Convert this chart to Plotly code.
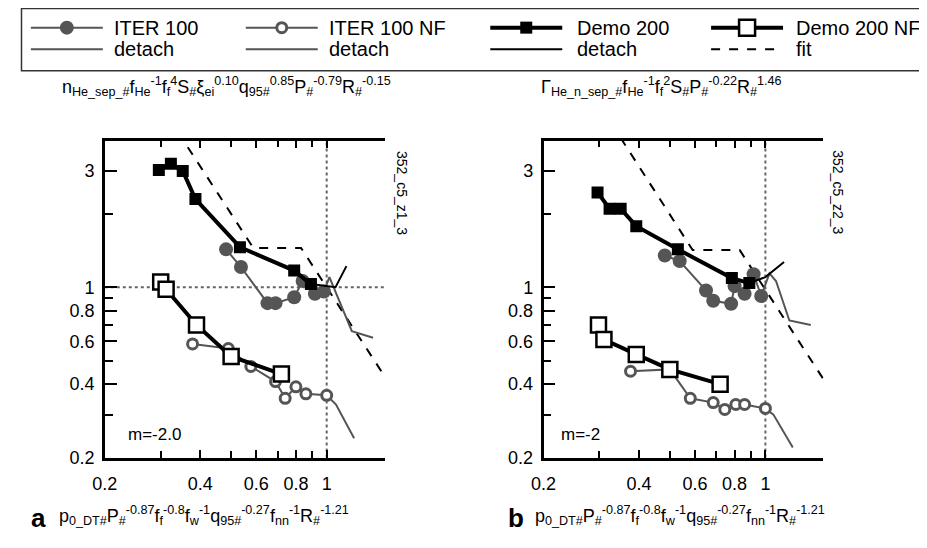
import plotly.graph_objects as go
import math

# ---------------- data ----------------
# panel a
a_iter_x = [0.482, 0.537, 0.651, 0.69, 0.79, 0.84, 0.918, 0.98]
a_iter_y = [1.43, 1.21, 0.86, 0.86, 0.91, 1.06, 0.94, 0.96]
a_iter_det_x = [0.98, 1.02, 1.20, 1.40]
a_iter_det_y = [0.96, 1.10, 0.66, 0.62]
a_iternf_x = [0.378, 0.49, 0.577, 0.69, 0.74, 0.80, 0.86, 1.0]
a_iternf_y = [0.585, 0.56, 0.473, 0.41, 0.35, 0.39, 0.365, 0.36]
a_iternf_det_x = [1.0, 1.07, 1.22]
a_iternf_det_y = [0.36, 0.33, 0.24]
a_demo_x = [0.296, 0.323, 0.352, 0.386, 0.533, 0.79, 0.892]
a_demo_y = [3.03, 3.21, 3.0, 2.30, 1.46, 1.17, 1.03]
a_demo_det_x = [0.892, 1.066, 1.154]
a_demo_det_y = [1.03, 1.0, 1.22]
a_demonf_x = [0.30, 0.312, 0.389, 0.50, 0.72]
a_demonf_y = [1.05, 0.98, 0.70, 0.52, 0.44]
a_fit_x = [0.34, 0.587, 0.83, 1.6]
a_fit_y = [4.33, 1.45, 1.45, 0.39]

# panel b
b_iter_x = [0.482, 0.537, 0.65, 0.685, 0.78, 0.80, 0.86, 0.918, 0.97]
b_iter_y = [1.35, 1.28, 0.97, 0.88, 0.855, 1.01, 0.94, 1.13, 0.92]
b_iter_det_x = [0.97, 1.03, 1.08, 1.19, 1.39]
b_iter_det_y = [0.92, 1.14, 1.06, 0.73, 0.70]
b_iternf_x = [0.376, 0.50, 0.58, 0.685, 0.745, 0.807, 0.86, 1.0]
b_iternf_y = [0.452, 0.46, 0.35, 0.336, 0.315, 0.33, 0.33, 0.318]
b_iternf_det_x = [1.0, 1.06, 1.22]
b_iternf_det_y = [0.318, 0.30, 0.22]
b_demo_x = [0.296, 0.323, 0.35, 0.392, 0.53, 0.784, 0.89]
b_demo_y = [2.45, 2.10, 2.10, 1.78, 1.43, 1.09, 1.04]
b_demo_det_x = [0.89, 1.0, 1.145]
b_demo_det_y = [1.04, 1.10, 1.27]
b_demonf_x = [0.298, 0.31, 0.392, 0.50, 0.72]
b_demonf_y = [0.70, 0.61, 0.53, 0.46, 0.40]
b_fit_x = [0.35, 0.59, 0.83, 1.6]
b_fit_y = [4.1, 1.42, 1.42, 0.38]

# reference lines
ref_x_h = [0.2, 1.6]
ref_y_h = [1, 1]
ref_x_v = [1, 1]
ref_y_v = [0.2, 4]

x_tickvals = [0.2, 0.4, 0.6, 0.8, 1]
x_ticktext = ["0.2", "0.4", "0.6", "0.8", "1"]
x_minor = [0.3, 0.5, 0.7, 0.9]
y_tickvals = [0.2, 0.4, 0.6, 0.8, 1, 3]
y_ticktext = ["0.2", "0.4", "0.6", "0.8", "1", "3"]
y_minor = [0.3, 0.5, 0.7, 0.9, 2]

legend_names = ["ITER 100", "ITER 100 NF", "Demo 200", "Demo 200 NF"]
legend_names2 = ["detach", "detach", "detach", "fit"]

title_a = ("n<sub>He_sep_#</sub>f<sub>He</sub><sup>-1</sup>f<sub>f</sub><sup>4</sup>S<sub>#</sub>"
           "ξ<sub>ei</sub><sup>0.10</sup>q<sub>95#</sub><sup>0.85</sup>P<sub>#</sub><sup>-0.79</sup>"
           "R<sub>#</sub><sup>-0.15</sup>")
title_b = ("Γ<sub>He_n_sep_#</sub>f<sub>He</sub><sup>-1</sup>f<sub>f</sub><sup>2</sup>S<sub>#</sub>"
           "P<sub>#</sub><sup>-0.22</sup>R<sub>#</sub><sup>1.46</sup>")
xtitle = ("p<sub>0_DT#</sub>P<sub>#</sub><sup>-0.87</sup>f<sub>f</sub><sup>-0.8</sup>"
          "f<sub>w</sub><sup>-1</sup>q<sub>95#</sub><sup>-0.27</sup>f<sub>nn</sub><sup>-1</sup>"
          "R<sub>#</sub><sup>-1.21</sup>")

# ---------------- styling ----------------
# the page body has an 8 px margin, so the figure is drawn 8 px in from the window corner
OFF = 8
W, H = 927 - OFF, 548 - OFF
GRAY = "#555555"
FONT = "Liberation Sans, Arial, sans-serif"
NARROW = "Liberation Sans Narrow, Liberation Sans, Arial, sans-serif"

def px(x):
    return (x - OFF) / W

def py(y):
    return 1 - (y - OFF) / H

fig = go.Figure()

def add_panel(xa, ya, iter_x, iter_y, idet_x, idet_y, nf_x, nf_y, nfdet_x, nfdet_y,
              demo_x, demo_y, ddet_x, ddet_y, dnf_x, dnf_y, fit_x, fit_y, hline):
    kw = dict(xaxis=xa, yaxis=ya, showlegend=False, hoverinfo="skip")
    if hline:
        fig.add_trace(go.Scatter(x=ref_x_h, y=ref_y_h, mode="lines",
                                 line=dict(color="#666666", width=2, dash="dot"), **kw))
    fig.add_trace(go.Scatter(x=ref_x_v, y=ref_y_v, mode="lines",
                             line=dict(color="#666666", width=2, dash="dot"), **kw))
    fig.add_trace(go.Scatter(x=fit_x, y=fit_y, mode="lines",
                             line=dict(color="black", width=2, dash="dash"), **kw))
    fig.add_trace(go.Scatter(x=idet_x, y=idet_y, mode="lines",
                             line=dict(color=GRAY, width=2), **kw))
    fig.add_trace(go.Scatter(x=nfdet_x, y=nfdet_y, mode="lines",
                             line=dict(color=GRAY, width=2), **kw))
    fig.add_trace(go.Scatter(x=iter_x, y=iter_y, mode="lines+markers",
                             line=dict(color=GRAY, width=2),
                             marker=dict(symbol="circle", size=14, color=GRAY), **kw))
    fig.add_trace(go.Scatter(x=nf_x, y=nf_y, mode="lines+markers",
                             line=dict(color=GRAY, width=2),
                             marker=dict(symbol="circle", size=10, color="white",
                                         line=dict(color=GRAY, width=3)), **kw))
    fig.add_trace(go.Scatter(x=ddet_x, y=ddet_y, mode="lines",
                             line=dict(color="black", width=2), **kw))
    fig.add_trace(go.Scatter(x=dnf_x, y=dnf_y, mode="lines+markers",
                             line=dict(color="black", width=4),
                             marker=dict(symbol="square", size=15, color="white",
                                         line=dict(color="black", width=2.5)), **kw))
    fig.add_trace(go.Scatter(x=demo_x, y=demo_y, mode="lines+markers",
                             line=dict(color="black", width=4),
                             marker=dict(symbol="square", size=12, color="black"), **kw))

add_panel("x", "y", a_iter_x, a_iter_y, a_iter_det_x, a_iter_det_y, a_iternf_x, a_iternf_y,
          a_iternf_det_x, a_iternf_det_y, a_demo_x, a_demo_y, a_demo_det_x, a_demo_det_y,
          a_demonf_x, a_demonf_y, a_fit_x, a_fit_y, True)
add_panel("x2", "y2", b_iter_x, b_iter_y, b_iter_det_x, b_iter_det_y, b_iternf_x, b_iternf_y,
          b_iternf_det_x, b_iternf_det_y, b_demo_x, b_demo_y, b_demo_det_x, b_demo_det_y,
          b_demonf_x, b_demonf_y, b_fit_x, b_fit_y, False)

xr = [math.log10(0.2), 0.183]
yr = [math.log10(0.2), math.log10(4)]

def xaxis_cfg(dom, anchor):
    return dict(type="log", range=xr, domain=dom, anchor=anchor,
                showline=True, linewidth=2.5, linecolor="black", mirror="ticks",
                ticks="inside", ticklen=8, tickwidth=2, tickcolor="black",
                tickmode="array", tickvals=x_tickvals, ticktext=x_ticktext,
                tickfont=dict(family=FONT, size=18, color="black"),
                ticklabelstandoff=8,
                minor=dict(tickmode="array", tickvals=x_minor, ticks="inside",
                           ticklen=7, tickwidth=2, tickcolor="black"),
                showgrid=False, zeroline=False, fixedrange=True)

def yaxis_cfg(anchor):
    return dict(type="log", range=yr, domain=[py(466), py(143)], anchor=anchor,
                showline=True, linewidth=2.5, linecolor="black", mirror=False,
                ticks="inside", ticklen=12, tickwidth=2, tickcolor="black",
                tickmode="array", tickvals=y_tickvals, ticktext=y_ticktext,
                tickfont=dict(family=FONT, size=18, color="black"),
                ticklabelstandoff=4,
                minor=dict(tickmode="array", tickvals=y_minor, ticks="inside",
                           ticklen=8, tickwidth=2, tickcolor="black"),
                showgrid=False, zeroline=False, fixedrange=True)

fig.update_layout(
    width=W, height=H,
    margin=dict(l=0, r=0, t=0, b=0),
    paper_bgcolor="white", plot_bgcolor="white",
    xaxis=xaxis_cfg([px(93), px(377)], "y"),
    yaxis=yaxis_cfg("x"),
    xaxis2=xaxis_cfg([px(538), px(822)], "y2"),
    yaxis2=yaxis_cfg("x2"),
    showlegend=False,
)

shapes = []
annotations = []

# legend box
shapes.append(dict(type="rect", xref="paper", yref="paper", x0=px(8.5), x1=px(926),
                   y0=py(72), y1=py(8.5), line=dict(color="#333333", width=1.5)))

col_line_x0 = [18, 236, 484, 708]
col_text_x = [100, 318, 570, 792]
row1_y = 28
row2_y = 50
line_len = 73
styles1 = [
    dict(lc=GRAY, lw=2, m="circle", ms=7, mfill=GRAY, mline=GRAY, mlw=0),
    dict(lc=GRAY, lw=2, m="circle", ms=5, mfill="white", mline=GRAY, mlw=3),
    dict(lc="black", lw=4, m="rect", ms=6, mfill="black", mline="black", mlw=0),
    dict(lc="black", lw=4, m="rect", ms=8, mfill="white", mline="black", mlw=2.5),
]
styles2 = [
    dict(lc=GRAY, lw=2, dash="solid"),
    dict(lc=GRAY, lw=2, dash="solid"),
    dict(lc="black", lw=2, dash="solid"),
    dict(lc="black", lw=2, dash="dash"),
]
for i in range(4):
    x0 = col_line_x0[i]
    s = styles1[i]
    shapes.append(dict(type="line", xref="paper", yref="paper", x0=px(x0), x1=px(x0 + line_len),
                       y0=py(row1_y), y1=py(row1_y), line=dict(color=s["lc"], width=s["lw"])))
    cx = x0 + line_len / 2
    r = s["ms"]
    shapes.append(dict(type="circle" if s["m"] == "circle" else "rect",
                       xref="paper", yref="paper", xsizemode="pixel", ysizemode="pixel",
                       xanchor=px(cx), yanchor=py(row1_y), x0=-r, x1=r, y0=-r, y1=r,
                       fillcolor=s["mfill"],
                       line=dict(color=s["mline"], width=s["mlw"] if s["mlw"] else 0)))
    annotations.append(dict(text=legend_names[i], xref="paper", yref="paper",
                            x=px(col_text_x[i]), y=py(row1_y), xanchor="left", yanchor="middle",
                            showarrow=False, font=dict(family=FONT, size=20, color="black")))
    s2 = styles2[i]
    shapes.append(dict(type="line", xref="paper", yref="paper", x0=px(x0), x1=px(x0 + line_len),
                       y0=py(row2_y), y1=py(row2_y),
                       line=dict(color=s2["lc"], width=s2["lw"], dash=s2["dash"])))
    annotations.append(dict(text=legend_names2[i], xref="paper", yref="paper",
                            x=px(col_text_x[i]), y=py(row2_y), xanchor="left", yanchor="middle",
                            showarrow=False, font=dict(family=FONT, size=20, color="black")))

# panel titles
annotations.append(dict(text=title_a, xref="paper", yref="paper", x=px(48), y=py(88),
                        xanchor="left", yanchor="middle", showarrow=False,
                        font=dict(family=NARROW, size=18, color="black")))
annotations.append(dict(text=title_b, xref="paper", yref="paper", x=px(533), y=py(88),
                        xanchor="left", yanchor="middle", showarrow=False,
                        font=dict(family=NARROW, size=18, color="black")))

# x titles
for lab, xl, xt in [("a", 16, 45), ("b", 500, 527)]:
    annotations.append(dict(text="<b>%s</b>" % lab, xref="paper", yref="paper", x=px(xl), y=py(528),
                            xanchor="left", yanchor="middle", showarrow=False,
                            font=dict(family=FONT, size=26, color="black")))
    annotations.append(dict(text=xtitle, xref="paper", yref="paper", x=px(xt), y=py(525),
                            xanchor="left", yanchor="middle", showarrow=False,
                            font=dict(family=NARROW, size=18, color="black")))

# m annotations
annotations.append(dict(text="m=-2.0", xref="paper", yref="paper", x=px(114), y=py(443),
                        xanchor="left", yanchor="middle", showarrow=False,
                        font=dict(family=FONT, size=17, color="black")))
annotations.append(dict(text="m=-2", xref="paper", yref="paper", x=px(554), y=py(443),
                        xanchor="left", yanchor="middle", showarrow=False,
                        font=dict(family=FONT, size=17, color="black")))

# rotated ids
annotations.append(dict(text="352_c5_z1_3", xref="paper", yref="paper", x=px(395), y=py(196),
                        xanchor="center", yanchor="middle", textangle=90, showarrow=False,
                        font=dict(family=FONT, size=14, color="black")))
annotations.append(dict(text="352_c5_z2_3", xref="paper", yref="paper", x=px(837), y=py(196),
                        xanchor="center", yanchor="middle", textangle=90, showarrow=False,
                        font=dict(family=FONT, size=14, color="black")))

fig.update_layout(shapes=shapes, annotations=annotations)
fig.write_html("out.html")
